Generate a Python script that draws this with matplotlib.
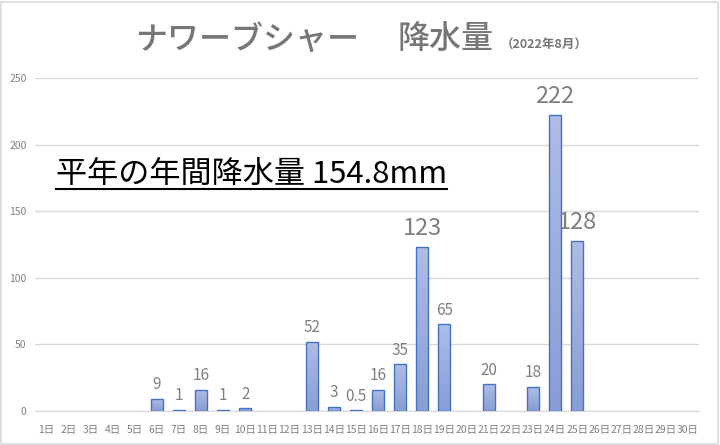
import matplotlib
matplotlib.use("Agg")
import matplotlib.pyplot as plt
import numpy as np
from matplotlib.lines import Line2D
from matplotlib.patches import Rectangle

plt.rcParams['font.family'] = ['Noto Sans CJK JP', 'DejaVu Sans']

# データ（2022年8月 ナワーブシャー 日別降水量）
days = [f"{d}日" for d in range(1, 31)]
rain = [0, 0, 0, 0, 0, 9, 1, 16, 1, 2, 0, 0, 52, 3, 0.5,
        16, 35, 123, 65, 0, 20, 0, 18, 222, 128, 0, 0, 0, 0, 0]
labels = ["", "", "", "", "", "9", "1", "16", "1", "2", "", "", "52", "3", "0.5",
          "16", "35", "123", "65", "", "20", "", "18", "222", "128", "", "", "", "", ""]
big_days = [18, 24, 25]  # ラベルを大きく表示する日
y_ticks = [0, 50, 100, 150, 200, 250]

fig = plt.figure(figsize=(7.2, 4.45), dpi=100)
ax = fig.add_axes([0.0486, 0.0764, 0.922, 0.7483])

x = np.arange(len(days))
bars = ax.bar(x, rain, width=0.55, color='#9eb0e0', edgecolor='none', linewidth=0, zorder=3)

# グラデーション塗り（上が明るい）
grad = np.linspace(0, 1, 256).reshape(-1, 1)
cmap = matplotlib.colors.LinearSegmentedColormap.from_list('g', ['#889dd5', '#afbde6'])
for b in bars:
    if b.get_height() <= 0:
        continue
    x0, y0 = b.get_x(), b.get_y()
    w, h = b.get_width(), b.get_height()
    im = ax.imshow(grad, extent=(x0, x0 + w, y0, y0 + h), origin='lower',
                   cmap=cmap, aspect='auto', zorder=3.5)
    im.set_clip_path(b)
    ax.add_patch(Rectangle((x0, y0), w, h, fill=False, edgecolor='#4472c4', lw=1.0, zorder=4))

# データラベル
for i, (v, lab) in enumerate(zip(rain, labels)):
    if not lab:
        continue
    if (i + 1) in big_days:
        ax.annotate(lab, (i, v), xytext=(0, 5), textcoords='offset points',
                    ha='center', va='bottom', fontsize=17, color='#7f7f7f')
    else:
        ax.annotate(lab, (i, v), xytext=(0, 4), textcoords='offset points',
                    ha='center', va='bottom', fontsize=11, color='#7f7f7f')

ax.set_xlim(-0.5, len(days) - 0.5)
ax.set_ylim(0, 250)
ax.set_yticks(y_ticks)
ax.set_xticks(x)
ax.set_xticklabels(days)
ax.tick_params(axis='both', length=0, colors='#808080', labelsize=7.5)
ax.tick_params(axis='y', pad=6)
ax.tick_params(axis='x', pad=10)
ax.grid(axis='y', color='#d9d9d9', linewidth=1, zorder=0)
for s in ax.spines.values():
    s.set_visible(False)
ax.spines['bottom'].set_visible(True)
ax.spines['bottom'].set_color('#d9d9d9')

# タイトル
fig.text(0.1875, 0.91, "ナワーブシャー", fontsize=23, color='#767676',
         ha='left', va='center', fontweight='medium')
fig.text(0.552, 0.91, "降水量", fontsize=23, color='#767676',
         ha='left', va='center', fontweight='medium')
fig.text(0.695, 0.899, "（2022年8月）", fontsize=9, color='#767676',
         ha='left', va='center', fontweight='bold')

# 平年の年間降水量（下線付き）
t = ax.text(0.078, 0.607, "平年の年間降水量 154.8mm", fontsize=22.4, color='black',
            ha='left', va='center', transform=fig.transFigure)
fig.canvas.draw()
bb = t.get_window_extent().transformed(fig.transFigure.inverted())
fig.add_artist(Line2D([bb.x0, bb.x1], [bb.y0 + 0.002, bb.y0 + 0.002],
                      transform=fig.transFigure, color='black', lw=1.5))

# 外枠
fig.add_artist(Rectangle((0.002, 0.003), 0.995, 0.993, transform=fig.transFigure,
                         fill=False, edgecolor='#d9d9d9', lw=1.2))

fig.savefig('out.png', dpi=100)
